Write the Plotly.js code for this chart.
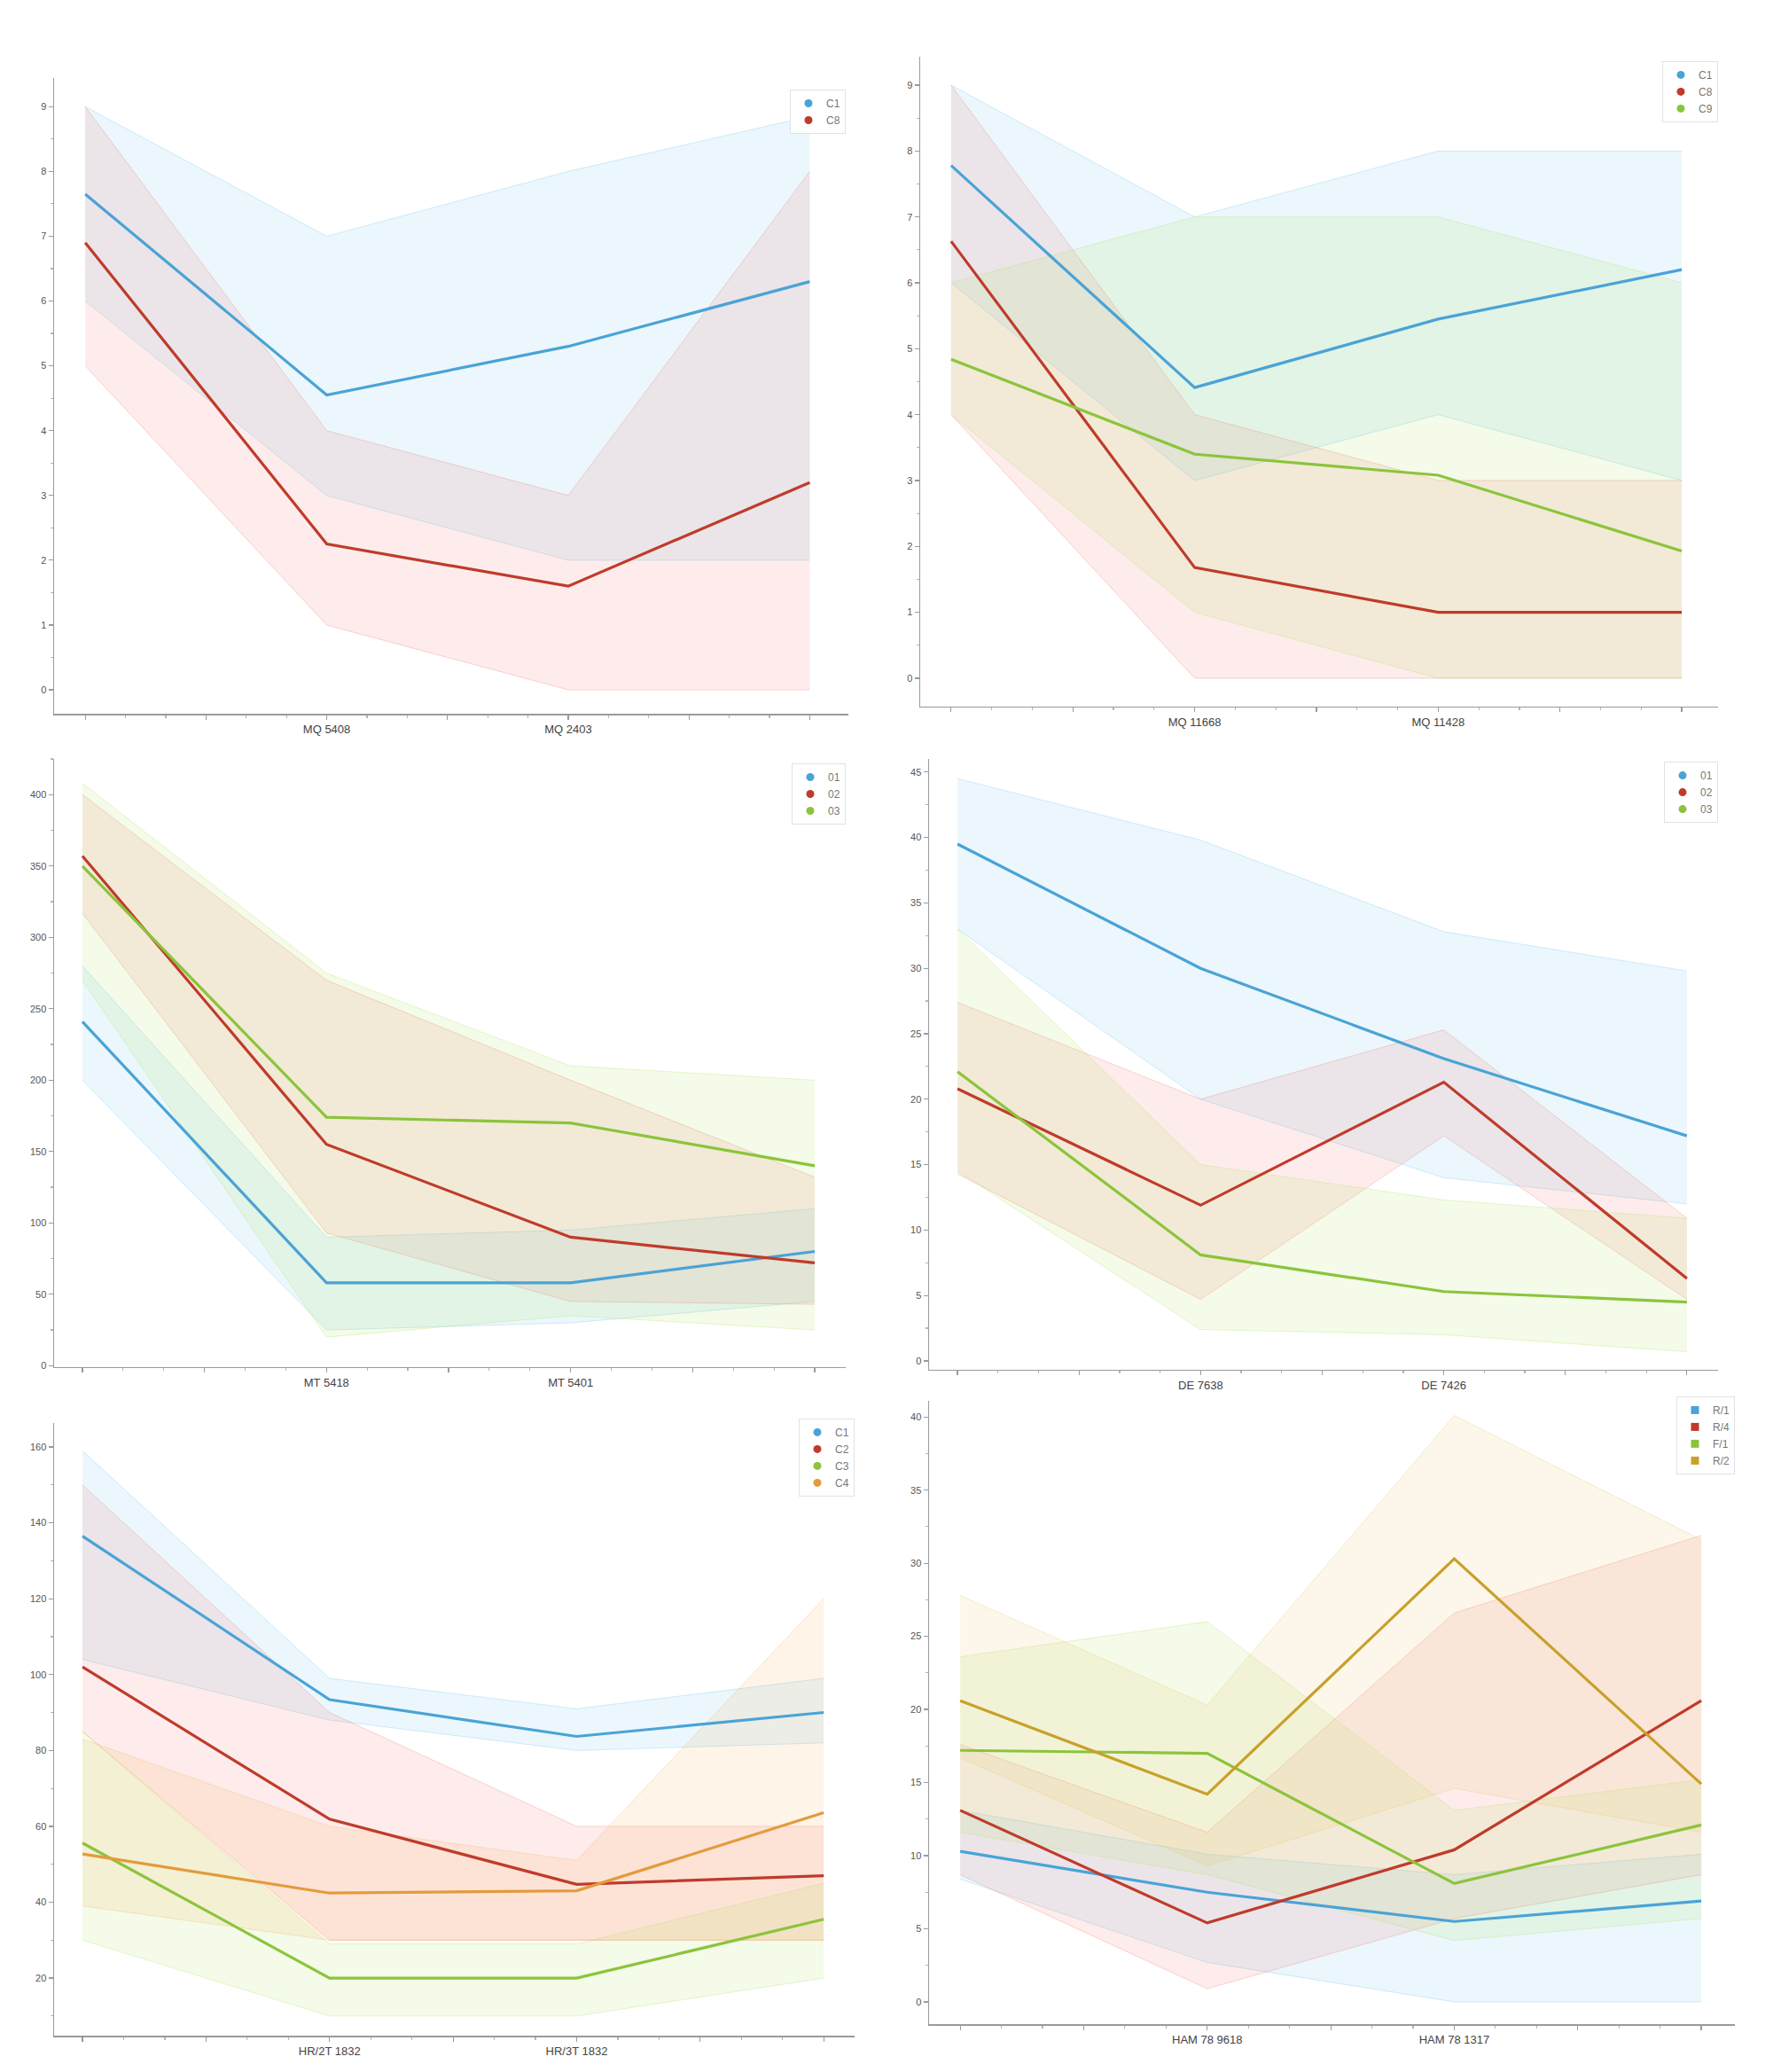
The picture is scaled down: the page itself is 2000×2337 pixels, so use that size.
<!DOCTYPE html>
<html><head><meta charset="utf-8">
<script src="https://cdn.plot.ly/plotly-3.0.1.min.js"></script>
<style>html,body{margin:0;padding:0;background:#fff}#chart{width:2000px;height:2337px}</style>
</head><body><div id="chart"></div>
<script>
// sample positions along x (4 visits)
const positions = [0, 1, 2, 3];

// ---------- panel 1 ----------
const p1Labels = ['MQ 5408', 'MQ 2403'];
const p1Names = ['C1', 'C8'];
const p1Blue   = [7.65, 4.55, 5.3, 6.3];
const p1BlueHi = [9.0, 7.0, 8.0, 8.85];
const p1BlueLo = [6.0, 3.0, 2.0, 2.0];
const p1Red    = [6.9, 2.25, 1.6, 3.2];
const p1RedHi  = [9.0, 4.0, 3.0, 8.0];
const p1RedLo  = [5.0, 1.0, 0.0, 0.0];
const p1Ticks  = [0,1,2,3,4,5,6,7,8,9];

// ---------- panel 2 ----------
const p2Labels = ['MQ 11668', 'MQ 11428'];
const p2Names = ['C1', 'C8', 'C9'];
const p2Blue    = [7.78, 4.41, 5.45, 6.2];
const p2BlueHi  = [9.0, 7.0, 8.0, 8.0];
const p2BlueLo  = [6.0, 3.0, 4.0, 3.0];
const p2Red     = [6.63, 1.68, 1.0, 1.0];
const p2RedHi   = [9.0, 4.0, 3.0, 3.0];
const p2RedLo   = [4.0, 0.0, 0.0, 0.0];
const p2Green   = [4.84, 3.4, 3.08, 1.93];
const p2GreenHi = [6.0, 7.0, 7.0, 6.0];
const p2GreenLo = [4.0, 1.0, 0.0, 0.0];
const p2Ticks   = [0,1,2,3,4,5,6,7,8,9];

// ---------- panel 3 ----------
const p3Labels = ['MT 5418', 'MT 5401'];
const p3Names = ['01', '02', '03'];
const p3Blue    = [241, 58, 58, 80];
const p3BlueHi  = [280, 90, 95, 110];
const p3BlueLo  = [200, 25, 30, 45];
const p3Red     = [357, 155, 90, 72];
const p3RedHi   = [400, 270, 200, 132];
const p3RedLo   = [317, 93, 45, 43];
const p3Green   = [350, 174, 170, 140];
const p3GreenHi = [408, 275, 210, 200];
const p3GreenLo = [270, 20, 35, 25];
const p3Ticks   = [0,50,100,150,200,250,300,350,400];

// ---------- panel 4 ----------
const p4Labels = ['DE 7638', 'DE 7426'];
const p4Names = ['01', '02', '03'];
const p4Blue    = [39.5, 30.0, 23.1, 17.2];
const p4BlueHi  = [44.5, 39.8, 32.8, 29.8];
const p4BlueLo  = [33.0, 20.0, 14.0, 12.0];
const p4Red     = [20.8, 11.9, 21.3, 6.3];
const p4RedHi   = [27.4, 20.0, 25.3, 10.9];
const p4RedLo   = [14.3, 4.7, 17.2, 4.7];
const p4Green   = [22.1, 8.1, 5.3, 4.5];
const p4GreenHi = [33.0, 15.0, 12.3, 10.9];
const p4GreenLo = [14.5, 2.4, 2.0, 0.7];
const p4Ticks   = [0,5,10,15,20,25,30,35,40,45];

// ---------- panel 5 ----------
const p5Labels = ['HR/2T 1832', 'HR/3T 1832'];
const p5Names = ['C1', 'C2', 'C3', 'C4'];
const p5Blue     = [136.5, 93.4, 83.7, 90.0];
const p5BlueHi   = [159, 99, 91, 99];
const p5BlueLo   = [104, 88, 80, 82];
const p5Red      = [102, 61.9, 44.7, 47.0];
const p5RedHi    = [150, 90, 60, 60];
const p5RedLo    = [85, 30, 30, 30];
const p5Green    = [55.6, 20, 20, 35.5];
const p5GreenHi  = [85, 29, 29, 45];
const p5GreenLo  = [30, 10, 10, 20];
const p5Orange   = [52.7, 42.4, 43.0, 63.6];
const p5OrangeHi = [83, 60, 51, 120];
const p5OrangeLo = [39, 30, 30, 30];
const p5Ticks    = [20,40,60,80,100,120,140,160];

// ---------- panel 6 ----------
const p6Labels = ['HAM 78 9618', 'HAM 78 1317'];
const p6Names = ['R/1', 'R/4', 'F/1', 'R/2'];
const p6Blue    = [10.3, 7.5, 5.5, 6.9];
const p6BlueHi  = [13.1, 10.1, 8.7, 10.1];
const p6BlueLo  = [8.4, 2.7, 0.0, 0.0];
const p6Red     = [13.1, 5.4, 10.4, 20.6];
const p6RedHi   = [17.6, 11.6, 26.6, 31.9];
const p6RedLo   = [8.7, 0.9, 5.7, 8.7];
const p6Green   = [17.2, 17.0, 8.1, 12.1];
const p6GreenHi = [23.6, 26.0, 13.1, 15.2];
const p6GreenLo = [11.6, 8.7, 4.2, 5.7];
const p6Gold    = [20.6, 14.2, 30.3, 14.9];
const p6GoldHi  = [27.8, 20.3, 40.1, 31.6];
const p6GoldLo  = [16.7, 9.3, 14.6, 11.6];
const p6Ticks   = [0,5,10,15,20,25,30,35,40];

// ---------- styling ----------
const COL = {
  blue:   {line: '#4aa3d6', rgb: '110,195,240'},
  red:    {line: '#bf3b2b', rgb: '240,120,110'},
  green:  {line: '#8bc43c', rgb: '175,225,95'},
  orange: {line: '#e39b3c', rgb: '245,175,95'},
  gold:   {line: '#c9a02a', rgb: '235,195,105'}
};

const panels = [
  {labels: p1Labels, ticks: p1Ticks, sym: 'circle', series: [
    ['blue', p1Names[0], p1Blue, p1BlueLo, p1BlueHi],
    ['red',  p1Names[1], p1Red,  p1RedLo,  p1RedHi]]},
  {labels: p2Labels, ticks: p2Ticks, sym: 'circle', series: [
    ['blue',  p2Names[0], p2Blue,  p2BlueLo,  p2BlueHi],
    ['red',   p2Names[1], p2Red,   p2RedLo,   p2RedHi],
    ['green', p2Names[2], p2Green, p2GreenLo, p2GreenHi]]},
  {labels: p3Labels, ticks: p3Ticks, sym: 'circle', series: [
    ['blue',  p3Names[0], p3Blue,  p3BlueLo,  p3BlueHi],
    ['red',   p3Names[1], p3Red,   p3RedLo,   p3RedHi],
    ['green', p3Names[2], p3Green, p3GreenLo, p3GreenHi]]},
  {labels: p4Labels, ticks: p4Ticks, sym: 'circle', series: [
    ['blue',  p4Names[0], p4Blue,  p4BlueLo,  p4BlueHi],
    ['red',   p4Names[1], p4Red,   p4RedLo,   p4RedHi],
    ['green', p4Names[2], p4Green, p4GreenLo, p4GreenHi]]},
  {labels: p5Labels, ticks: p5Ticks, sym: 'circle', series: [
    ['blue',   p5Names[0], p5Blue,   p5BlueLo,   p5BlueHi],
    ['red',    p5Names[1], p5Red,    p5RedLo,    p5RedHi],
    ['green',  p5Names[2], p5Green,  p5GreenLo,  p5GreenHi],
    ['orange', p5Names[3], p5Orange, p5OrangeLo, p5OrangeHi]]},
  {labels: p6Labels, ticks: p6Ticks, sym: 'square', series: [
    ['blue',  p6Names[0], p6Blue,  p6BlueLo,  p6BlueHi],
    ['red',   p6Names[1], p6Red,   p6RedLo,   p6RedHi],
    ['green', p6Names[2], p6Green, p6GreenLo, p6GreenHi],
    ['gold',  p6Names[3], p6Gold,  p6GoldLo,  p6GoldHi]]}
];

// layout geometry (paper fractions), axis ranges, legend anchors
const geom = [
  {xd: [0.0305, 0.4785], yd: [0.6555, 0.9623], xr: [-0.129, 3.16],  yr: [-0.37, 9.44], lx: 0.477, ly: 0.9568, ydt: 0.5},
  {xd: [0.519, 0.969],   yd: [0.659, 0.9726],  xr: [-0.127, 3.149], yr: [-0.43, 9.43], lx: 0.969, ly: 0.9705, ydt: 0.5},
  {xd: [0.0305, 0.477],  yd: [0.3402, 0.6337], xr: [-0.116, 3.127], yr: [-1, 425],     lx: 0.477, ly: 0.6316, ydt: 25},
  {xd: [0.524, 0.969],   yd: [0.3389, 0.6337], xr: [-0.117, 3.128], yr: [-0.68, 46],   lx: 0.969, ly: 0.6324, ydt: 2.5},
  {xd: [0.0305, 0.482],  yd: [0.0175, 0.3132], xr: [-0.115, 3.125], yr: [4.8, 166.3],  lx: 0.482, ly: 0.3154, ydt: 10},
  {xd: [0.524, 0.9785],  yd: [0.0231, 0.3239], xr: [-0.126, 3.136], yr: [-1.52, 41.1], lx: 0.9785, ly: 0.3261, ydt: 2.5}
];

const traces = [];
const layout = {
  width: 2000, height: 2337,
  margin: {l: 0, r: 0, t: 0, b: 0},
  paper_bgcolor: '#ffffff', plot_bgcolor: '#ffffff',
  font: {family: 'Liberation Sans, Arial, sans-serif', color: '#555', size: 12},
  showlegend: true
};

panels.forEach((p, i) => {
  const n = i + 1;
  const xa = n === 1 ? 'x' : 'x' + n;
  const ya = n === 1 ? 'y' : 'y' + n;
  const g = geom[i];
  // bands
  p.series.forEach(s => {
    const c = COL[s[0]];
    traces.push({x: positions, y: s[3], xaxis: xa, yaxis: ya, type: 'scatter', mode: 'lines',
      line: {color: 'rgba(' + c.rgb + ',0.3)', width: 1}, showlegend: false, hoverinfo: 'skip'});
    traces.push({x: positions, y: s[4], xaxis: xa, yaxis: ya, type: 'scatter', mode: 'lines',
      fill: 'tonexty', fillcolor: 'rgba(' + c.rgb + ',0.14)',
      line: {color: 'rgba(' + c.rgb + ',0.3)', width: 1}, showlegend: false, hoverinfo: 'skip'});
  });
  // median lines
  p.series.forEach(s => {
    const c = COL[s[0]];
    traces.push({x: positions, y: s[2], xaxis: xa, yaxis: ya, type: 'scatter', mode: 'lines',
      line: {color: c.line, width: 3.2}, showlegend: false, name: s[1]});
  });
  // legend entries
  const lg = n === 1 ? 'legend' : 'legend' + n;
  p.series.forEach(s => {
    const c = COL[s[0]];
    traces.push({x: [null], y: [null], xaxis: xa, yaxis: ya, type: 'scatter', mode: 'markers',
      marker: {color: c.line, size: 9, symbol: p.sym}, name: s[1], legend: lg, showlegend: true});
  });
  layout[lg] = {x: g.lx, y: g.ly, xanchor: 'right', yanchor: 'top', traceorder: 'normal',
    bgcolor: 'rgba(255,255,255,0.9)', bordercolor: '#e2e2e2', borderwidth: 1,
    font: {size: 12, color: '#777'}, itemwidth: 30, tracegroupgap: 2};

  const tv = [0, 0.5, 1, 1.5, 2, 2.5, 3];
  const tt = ['', '', p.labels[0], '', p.labels[1], '', ''];
  layout[n === 1 ? 'xaxis' : 'xaxis' + n] = {
    domain: g.xd, range: g.xr, anchor: ya,
    tickmode: 'array', tickvals: tv, ticktext: tt,
    showline: true, linecolor: '#9a9a9a', linewidth: 1.5, mirror: false,
    ticks: 'outside', ticklen: 5, tickcolor: '#9a9a9a', tickwidth: 1.2,
    tickfont: {size: 13, color: '#444'},
    minor: {tickmode: 'linear', tick0: 0, dtick: 1/6, ticks: 'outside', ticklen: 3, tickcolor: '#b5b5b5'},
    showgrid: false, zeroline: false, fixedrange: true
  };
  layout[n === 1 ? 'yaxis' : 'yaxis' + n] = {
    domain: g.yd, range: g.yr, anchor: xa,
    tickmode: 'array', tickvals: p.ticks, ticktext: p.ticks.map(String),
    showline: true, linecolor: '#9a9a9a', linewidth: 1.5,
    ticks: 'outside', ticklen: 5, tickcolor: '#9a9a9a', tickwidth: 1.2,
    tickfont: {size: 11, color: '#555'},
    minor: {tickmode: 'linear', dtick: g.ydt, ticks: 'outside', ticklen: 3, tickcolor: '#b5b5b5'},
    showgrid: false, zeroline: false, fixedrange: true
  };
});

Plotly.newPlot('chart', traces, layout, {displayModeBar: false, staticPlot: true});
</script>
</body></html>
